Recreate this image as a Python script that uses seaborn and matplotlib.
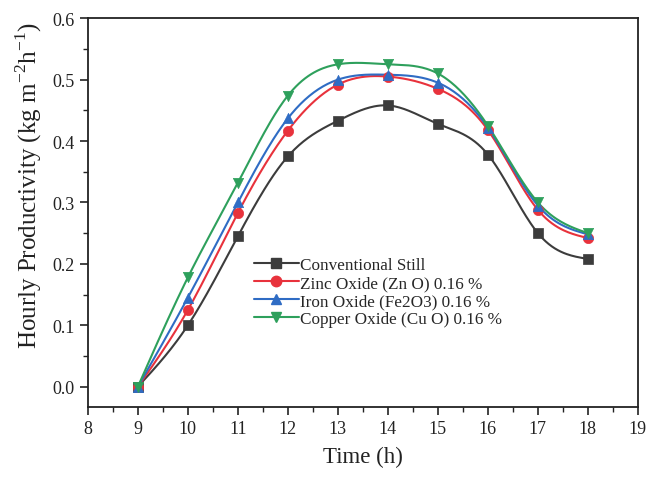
import numpy as np
import pandas as pd
import matplotlib
matplotlib.use("Agg")
import matplotlib.pyplot as plt
from matplotlib.ticker import MultipleLocator
import seaborn as sns

hours = [9, 10, 11, 12, 13, 14, 15, 16, 17, 18]
conventional = [0.0, 0.100, 0.245, 0.375, 0.433, 0.458, 0.428, 0.378, 0.250, 0.208]
zinc = [0.0, 0.125, 0.283, 0.417, 0.492, 0.505, 0.485, 0.418, 0.288, 0.242]
iron = [0.0, 0.145, 0.300, 0.437, 0.500, 0.508, 0.495, 0.422, 0.295, 0.248]
copper = [0.0, 0.178, 0.332, 0.474, 0.525, 0.525, 0.510, 0.425, 0.300, 0.250]
labels = ["Conventional Still", "Zinc Oxide (Zn O) 0.16 %",
          "Iron Oxide (Fe2O3) 0.16 %", "Copper Oxide (Cu O) 0.16 %"]
xticks = list(range(8, 20))
yticks = [0.0, 0.1, 0.2, 0.3, 0.4, 0.5, 0.6]

series = [conventional, zinc, iron, copper]
colors = ["#3c3c3c", "#e8323c", "#2f6cc4", "#2ea05c"]
markers = ["s", "o", "^", "v"]

sns.set_theme(style="ticks")
plt.rcParams["font.family"] = ["Liberation Serif", "DejaVu Serif"]
plt.rcParams["mathtext.fontset"] = "custom"
plt.rcParams["mathtext.rm"] = "Liberation Serif"


def natural_spline(x, y, n=300):
    x = np.asarray(x, float); y = np.asarray(y, float)
    m = len(x); h = np.diff(x)
    A = np.zeros((m, m)); b = np.zeros(m)
    A[0, 0] = A[-1, -1] = 1
    for i in range(1, m - 1):
        A[i, i - 1] = h[i - 1]; A[i, i] = 2 * (h[i - 1] + h[i]); A[i, i + 1] = h[i]
        b[i] = 3 * ((y[i + 1] - y[i]) / h[i] - (y[i] - y[i - 1]) / h[i - 1])
    c = np.linalg.solve(A, b)
    xs = np.linspace(x[0], x[-1], n)
    idx = np.clip(np.searchsorted(x, xs) - 1, 0, m - 2)
    dx = xs - x[idx]
    bb = (y[idx + 1] - y[idx]) / h[idx] - h[idx] * (2 * c[idx] + c[idx + 1]) / 3
    d = (c[idx + 1] - c[idx]) / (3 * h[idx])
    return xs, y[idx] + bb * dx + c[idx] * dx ** 2 + d * dx ** 3


fig = plt.figure(figsize=(6.61, 4.81), dpi=100)
ax = fig.add_axes([0.133, 0.152, 0.832, 0.808])

for vals, lab, col, mk in zip(series, labels, colors, markers):
    xs, ys = natural_spline(hours, vals)
    ax.plot(xs, ys, color=col, lw=1.5, zorder=2)
    df = pd.DataFrame({"x": hours, "y": vals})
    sns.scatterplot(data=df, x="x", y="y", ax=ax, color=col, marker=mk,
                    s=55, edgecolor=col, linewidth=0.5, zorder=3)
    ax.plot([], [], color=col, lw=1.5, marker=mk, markersize=7.5, label=lab)

ax.set_xlim(8, 19)
ax.set_ylim(-0.033, 0.6)
ax.set_xticks(xticks)
ax.set_yticks(yticks)
ax.set_yticklabels([f"{v:.1f}" for v in yticks])
ax.xaxis.set_minor_locator(MultipleLocator(0.5))
ax.yaxis.set_minor_locator(MultipleLocator(0.05))
ax.tick_params(which="major", direction="out", length=6, width=1.2,
               labelsize=13, colors="#222222", top=False, right=False)
ax.tick_params(which="minor", direction="out", length=3.5, width=1.0,
               top=False, right=False, colors="#222222")
for s in ax.spines.values():
    s.set_color("#222222"); s.set_linewidth(1.3)

ax.set_xlabel("Time (h)", fontsize=16.5, color="#222222", labelpad=6)
ax.set_ylabel(r"Hourly Productivity (kg m$^{\mathregular{-2}}$h$^{\mathregular{-1}}$)",
              fontsize=18, color="#222222")
ax.yaxis.set_label_coords(-0.079, 0.573)

ax.legend(loc="upper left", bbox_to_anchor=(0.29, 0.403), frameon=False,
          fontsize=12.3, handlelength=2.6, handletextpad=0.1,
          labelspacing=0.12, borderaxespad=0)

fig.savefig("out.png", dpi=100)
